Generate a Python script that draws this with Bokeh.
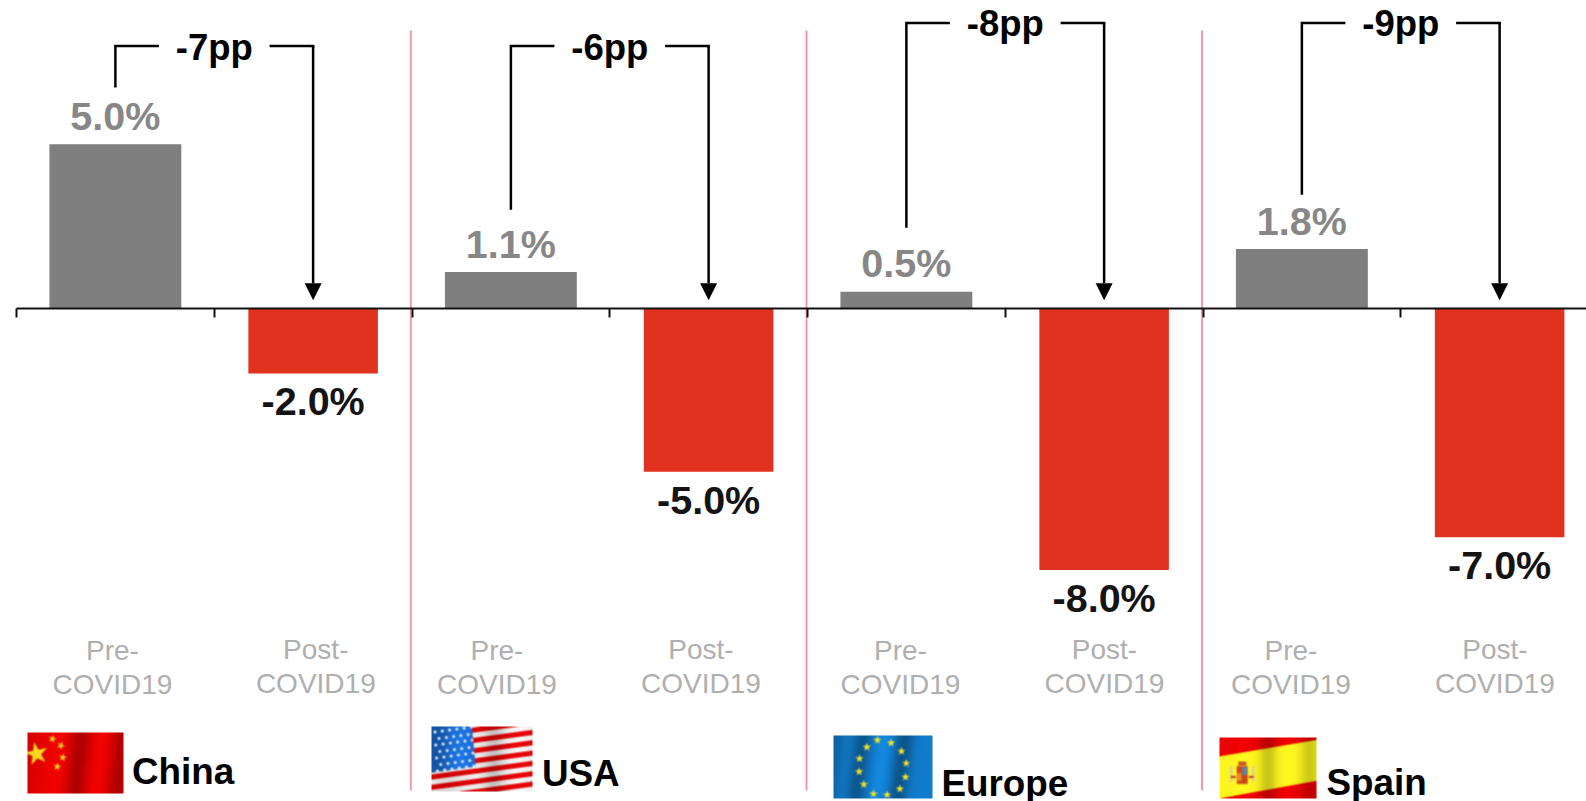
import numpy as np
from bokeh.core.properties import value
from bokeh.embed import file_html
from bokeh.models import Arrow, FixedTicker, LinearAxis, NormalHead, Range1d
from bokeh.plotting import figure
from bokeh.resources import INLINE

regions = ["China", "USA", "Europe", "Spain"]
pre_covid = [5.0, 1.1, 0.5, 1.8]
post_covid = [-2.0, -5.0, -8.0, -7.0]
gaps = ["-7pp", "-6pp", "-8pp", "-9pp"]
period_lines = {"pre": ["Pre-", "COVID19"], "post": ["Post-", "COVID19"]}

WIDTH, HEIGHT = 1586, 801
X0, X_STEP = 16.0, 197.75
Y0, Y_STEP = 307.5, 32.75
FONT = value("Liberation Sans")
# the svg backend sets alphabetic text lower than the canvas one; lift it by this share of the size
LIFT = 0.36


def xd(px):
    return (np.asarray(px, dtype=float) - X0) / X_STEP


def yd(py):
    return (Y0 - np.asarray(py, dtype=float)) / Y_STEP


def label(xs, ys, texts, size, color, bold=True, align="center", offset=0):
    p.text(xs, ys, text=texts, text_align=align, text_baseline="alphabetic",
           y_offset=offset - LIFT * size, text_font=FONT,
           text_font_style="bold" if bold else "normal",
           text_font_size=f"{size}px", text_color=color)


p = figure(width=WIDTH, height=HEIGHT, output_backend="svg", toolbar_location=None,
           x_range=Range1d(float(xd(0)), float(xd(WIDTH))),
           y_range=Range1d(float(yd(HEIGHT)), float(yd(0))),
           x_axis_location=None, y_axis_location=None, min_border=0,
           outline_line_color=None, background_fill_color="white",
           border_fill_color="white")
p.grid.visible = False

pre_x = np.arange(len(regions)) * 2 + 0.5
post_x = pre_x + 1.0

# dividers between regions
for dx in [1.994, 3.995, 5.995]:
    p.line([dx, dx], [float(yd(30)), float(yd(790))], line_color="#f2929f", line_width=1.8)

# bars
p.vbar(x=pre_x, top=pre_covid, bottom=0, width=0.667, fill_color="#7f7f7f", line_color=None)
p.vbar(x=post_x, top=0, bottom=post_covid, width=0.655, fill_color="#e0321e", line_color=None)

# baseline with a tick at each category boundary
tick_positions = list(range(9))
axis = LinearAxis(fixed_location=0, ticker=FixedTicker(ticks=tick_positions), bounds=(0, 8.2),
                  major_tick_in=0, major_tick_out=9, minor_tick_line_color=None,
                  axis_line_color="#111111", axis_line_width=2.2,
                  major_tick_line_color="#111111", major_tick_line_width=2,
                  major_label_overrides={t: "" for t in tick_positions},
                  major_label_standoff=0)
p.add_layout(axis, "below")

# value labels
label(pre_x, pre_covid, [f"{v:.1f}%" for v in pre_covid], 39.5, "#878787", offset=-14)
label(post_x, post_covid, [f"{v:.1f}%" for v in post_covid], 39.5, "#141414", offset=42)

# brackets running from each pre bar to an arrow above the post bar
bracket_top = [8.0, 8.0, 8.7, 8.7]
bracket_start = [6.73, 3.0, 2.45, 3.46]
label_baseline = [60, 60, 36, 36]
HALF_GAP = 0.28
ARROW_TIP = 0.24
for i in range(len(regions)):
    mid = (pre_x[i] + post_x[i]) / 2
    top = bracket_top[i]
    p.line([pre_x[i], pre_x[i], mid - HALF_GAP], [bracket_start[i], top, top],
           line_color="black", line_width=2.5, line_join="miter")
    p.line([mid + HALF_GAP, post_x[i], post_x[i]], [top, top, top - 0.05],
           line_color="black", line_width=2.5, line_join="miter")
    p.add_layout(Arrow(end=NormalHead(size=17, fill_color="black", line_color="black", line_width=0),
                       x_start=post_x[i], y_start=top, x_end=post_x[i], y_end=ARROW_TIP,
                       line_color="black", line_width=2.5))
    label([mid], [float(yd(label_baseline[i]))], [gaps[i]], 36.5, "black")

# category captions
pre_caption_px = [112, 496.5, 900, 1290.5]
post_caption_px = [315.3, 700.5, 1104, 1494.5]
for xs, lines, rows in [(pre_caption_px, period_lines["pre"], (660, 694)),
                        (post_caption_px, period_lines["post"], (659, 693))]:
    for line, row in zip(lines, rows):
        label(xd(xs), [float(yd(row))] * len(xs), [line] * len(xs), 28, "#afafaf", bold=False)

# region names
name_px = [131.5, 541.5, 941, 1326]
name_baseline = [784, 786, 796, 795]
label(xd(name_px), yd(name_baseline), regions, 36.8, "black", align="left")


# ---- waving flags, rasterised with a little softness ----
def star_mask(X, Y, cx, cy, r, rotation=0.0):
    """Boolean mask for a five-pointed star centred on (cx, cy)."""
    dx, dy = X - cx, Y - cy
    ang = np.arctan2(dx, -dy) - rotation
    rad = np.hypot(dx, dy)
    sector = 2 * np.pi / 5
    a = np.abs(((ang + sector / 2) % sector) - sector / 2)
    inner = 0.382 * r
    tx, ty = r, 0.0
    nx, ny = inner * np.cos(sector / 2), inner * np.sin(sector / 2)
    px_, py_ = rad * np.cos(a), rad * np.sin(a)
    return (px_ - tx) * (ny - ty) - (py_ - ty) * (nx - tx) <= 0


def bands(X, W, centers, widths, amps):
    s = np.ones_like(X, dtype=float)
    for c, w, a in zip(centers, widths, amps):
        s += a * np.exp(-((X / W - c) / w) ** 2)
    return s


def finish(rgb):
    S = 4
    h, w = rgb.shape[0] // S, rgb.shape[1] // S
    small = rgb.reshape(h, S, w, S, 3).mean(axis=(1, 3))
    pad = np.pad(small, ((1, 1), (1, 1), (0, 0)), mode="edge")
    soft = (pad[1:-1, 1:-1] * 4 + pad[:-2, 1:-1] + pad[2:, 1:-1] + pad[1:-1, :-2] + pad[1:-1, 2:]) / 8
    soft = np.clip(soft, 0, 255).astype(np.uint32)
    img = soft[..., 0] | (soft[..., 1] << 8) | (soft[..., 2] << 16) | (255 << 24)
    return img[::-1].astype(np.uint32)


def grid(w, h):
    S = 4
    ys, xs = np.mgrid[0:h * S, 0:w * S]
    return (xs + 0.5) / S, (ys + 0.5) / S


def china_flag(w, h):
    X, Y = grid(w, h)
    shade = bands(X + 0.1 * Y, w, [0.0, 0.56, 1.0, 0.36, 0.78], [0.14, 0.11, 0.11, 0.12, 0.1],
                  [-0.08, -0.25, -0.25, 0.04, 0.05])
    rgb = np.stack([np.clip(232 * shade, 0, 255), 2 * shade, 0 * shade], axis=-1)
    yellow = np.array([248, 216, 30.0])
    for fx, fy, r, rot in [(0.094, 0.35, 12, -0.2), (0.26, 0.105, 4.2, 0.3), (0.347, 0.215, 4.2, 0.5),
                           (0.368, 0.41, 4.2, 0.2), (0.31, 0.56, 4.2, 0.1)]:
        rgb[star_mask(X, Y, fx * w, fy * h, r, rot)] = yellow
    return finish(rgb)


def usa_flag(w, h):
    X, Y = grid(w, h)
    fy = Y / h + 0.21 * X / w
    t = (fy * 6.3 + 0.35) % 1.0
    shade = bands(X, w, [0.62, 0.85, 0.15], [0.1, 0.1, 0.15], [-0.18, 0.04, -0.08])
    red = np.stack([np.clip(225 * shade, 0, 255), 5 * shade, 5 * shade], axis=-1)
    white = np.stack([np.clip(238 * shade, 0, 255)] * 3, axis=-1)
    rgb = np.where((t < 0.5)[..., None], red, white)
    canton = (fy < 0.71) & (X / w < 0.40 + 0.06 * Y / h)
    blue_shade = bands(X, w, [0.28, 0.05], [0.12, 0.12], [0.12, -0.2])
    blue = np.stack([25 * blue_shade, 105 * blue_shade, np.clip(205 * blue_shade, 0, 255)], axis=-1)
    rgb[canton] = blue[canton]
    for row in range(8):
        for col in range(6):
            cx = (0.035 + 0.072 * col + 0.036 * (row % 2)) * w + row * 0.4
            cy = (0.055 + 0.1 * row - 0.21 * 0.072 * col) * h + 0.03 * h
            if 0 < cy < h:
                m = (X - cx) ** 2 + (Y - cy) ** 2 < 1.5 ** 2
                rgb[m & canton] = [225, 235, 250]
    return finish(rgb)


def europe_flag(w, h):
    X, Y = grid(w, h)
    shade = bands(X + 0.12 * Y, w, [0.03, 0.3, 0.52, 0.72, 0.97], [0.1, 0.1, 0.1, 0.1, 0.12],
                  [-0.2, -0.3, 0.1, -0.32, 0.0])
    rgb = np.stack([18 * shade, 125 * shade, np.clip(205 * shade, 0, 255)], axis=-1)
    star_fx = [0.444, 0.582, 0.687, 0.734, 0.727, 0.67, 0.542, 0.404, 0.306, 0.259, 0.263, 0.337]
    star_fy = [0.074, 0.117, 0.25, 0.441, 0.66, 0.846, 0.941, 0.926, 0.777, 0.574, 0.367, 0.186]
    for fx, fy in zip(star_fx, star_fy):
        rgb[star_mask(X, Y, fx * w, fy * h, 4.4)] = [248, 232, 40]
    return finish(rgb)


def spain_flag(w, h):
    X, Y = grid(w, h)
    fx, fy = X / w, Y / h
    upper = 0.31 - 0.27 * fx
    lower = 1.0 - 0.29 * fx
    shade = bands(X, w, [0.5, 0.93, 0.25, 0.72], [0.09, 0.1, 0.1, 0.08], [-0.2, -0.18, 0.02, 0.02])
    red = np.stack([np.clip(236 * shade, 0, 255), 3 * shade, 3 * shade], axis=-1)
    yellow = np.stack([np.clip(252 * shade, 0, 255), np.clip(245 * shade, 0, 255), 30 * shade], axis=-1)
    rgb = np.where(((fy > upper) & (fy < lower))[..., None], yellow, red)
    # coat of arms
    cx, cy = 0.234 * w, 0.60 * h
    rgb[(np.abs(X - cx) < 5.5) & (np.abs(Y - cy - 1) < 9)] = [205, 70, 30]
    rgb[(np.abs(X - cx - 2.5) < 2.5) & (np.abs(Y - cy + 3) < 4)] = [90, 130, 170]
    rgb[(np.abs(X - cx + 3) < 2.2) & (np.abs(Y - cy - 3) < 4)] = [230, 140, 30]
    rgb[(np.abs(X - cx) < 4) & (np.abs(Y - cy + 10.5) < 2)] = [200, 90, 40]
    rgb[(np.abs(np.abs(X - cx) - 11) < 1.3) & (np.abs(Y - cy) < 8)] = [225, 205, 170]
    rgb[(np.abs(np.abs(X - cx) - 9) < 2.5) & (np.abs(Y - cy - 3) < 1)] = [190, 50, 40]
    return finish(rgb)


flags = [(china_flag, 27, 123, 732, 793), (usa_flag, 431, 532, 726, 791),
         (europe_flag, 833, 932, 735, 798), (spain_flag, 1219, 1316, 737, 798)]
for make, left, right, top, bottom in flags:
    p.image_rgba(image=[make(right - left, bottom - top)], x=float(xd(left)), y=float(yd(bottom)),
                 dw=float(xd(right) - xd(left)), dh=float(yd(top) - yd(bottom)))

open("out.html", "w").write(file_html(p, INLINE))
